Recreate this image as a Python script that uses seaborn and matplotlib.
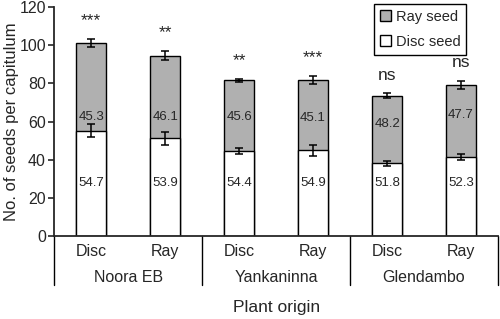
import numpy as np
import pandas as pd
import matplotlib
matplotlib.use('Agg')
import matplotlib.pyplot as plt
import seaborn as sns
from matplotlib.patches import Patch

sns.set_style('ticks')
plt.rcParams['font.family'] = ['Liberation Sans', 'DejaVu Sans']

# data
origins = ['Noora EB', 'Yankaninna', 'Glendambo']
seed_type = ['Disc', 'Ray']
disc_mean = [55.2, 51.2, 44.5, 44.9, 38.1, 41.6]
disc_err = [3.3, 3.4, 1.5, 2.8, 1.2, 1.5]
total_mean = [101.0, 94.5, 81.6, 81.8, 73.5, 79.1]
total_err = [2.2, 2.4, 0.9, 2.0, 1.2, 2.3]
disc_pct = ['54.7', '53.9', '54.4', '54.9', '51.8', '52.3']
ray_pct = ['45.3', '46.1', '45.6', '45.1', '48.2', '47.7']
signif = ['***', '**', '**', '***', 'ns', 'ns']
ray_label_y = [62.5, 62.5, 62.5, 62, 58.7, 63.4]

bars = [o + ' ' + s for o in origins for s in seed_type]
df = pd.DataFrame({'bar': bars, 'disc': disc_mean, 'total': total_mean})

fig, ax = plt.subplots(figsize=(5, 3.19), dpi=100)
fig.subplots_adjust(left=0.1086, right=0.996, top=0.978, bottom=0.26)

gray = '#b0b0b0'
sns.barplot(data=df, x='bar', y='total', order=bars, color=gray, width=0.4,
            edgecolor='black', linewidth=1.0, saturation=1, ax=ax)
sns.barplot(data=df, x='bar', y='disc', order=bars, color='white', width=0.4,
            edgecolor='black', linewidth=1.0, saturation=1, ax=ax)

xs = np.arange(len(bars))
ax.errorbar(xs, total_mean, yerr=total_err, fmt='none', ecolor='black',
            elinewidth=1.1, capsize=3, capthick=1.1)
ax.errorbar(xs, disc_mean, yerr=disc_err, fmt='none', ecolor='black',
            elinewidth=1.1, capsize=3, capthick=1.1)

for i in range(len(bars)):
    ax.text(xs[i], 28, disc_pct[i], ha='center', va='center', fontsize=9.5)
    ax.text(xs[i], ray_label_y[i], ray_pct[i], ha='center', va='center', fontsize=9.5)
    ax.text(xs[i], total_mean[i] + total_err[i] + 9.5, signif[i],
            ha='center', va='center', fontsize=12.5)

ax.set_xlim(-0.5, 5.5)
ax.set_ylim(0, 120)
ax.set_yticks(np.arange(0, 121, 20))
ax.set_xticks(xs)
ax.set_xticklabels(seed_type * 3, fontsize=11.5)
ax.tick_params(axis='x', length=0, pad=6)
ax.tick_params(axis='y', length=4, width=1.2, labelsize=11.5, pad=2)
sns.despine(ax=ax)
ax.spines['left'].set_linewidth(1.3)
ax.spines['bottom'].set_linewidth(1.3)

# group separators and group labels under the axis
for xb in [-0.5, 1.5, 3.5, 5.5]:
    ax.plot([xb, xb], [0, -0.215], color='black', lw=1.0,
            transform=ax.get_xaxis_transform(), clip_on=False)
for g, name in enumerate(origins):
    ax.text(2 * g + 0.5, -0.179, name, ha='center', va='center', fontsize=11.5,
            transform=ax.get_xaxis_transform())

ax.set_xlabel('Plant origin', fontsize=12.5)
ax.xaxis.set_label_coords(0.5, -0.28)
ax.set_ylabel('No. of seeds per capitulum', fontsize=12)
ax.yaxis.set_label_coords(-0.08, 0.5)

handles = [Patch(facecolor=gray, edgecolor='black', label='Ray seed'),
           Patch(facecolor='white', edgecolor='black', label='Disc seed')]
leg = ax.legend(handles=handles, loc='upper left', bbox_to_anchor=(0.72, 1.013),
                borderaxespad=0, fancybox=False, edgecolor='black', fontsize=10.5,
                handlelength=0.75, handleheight=0.75, handletextpad=0.35,
                labelspacing=0.75, borderpad=0.4, framealpha=1)
leg.get_frame().set_linewidth(1.0)

fig.savefig('out.png', dpi=100)
